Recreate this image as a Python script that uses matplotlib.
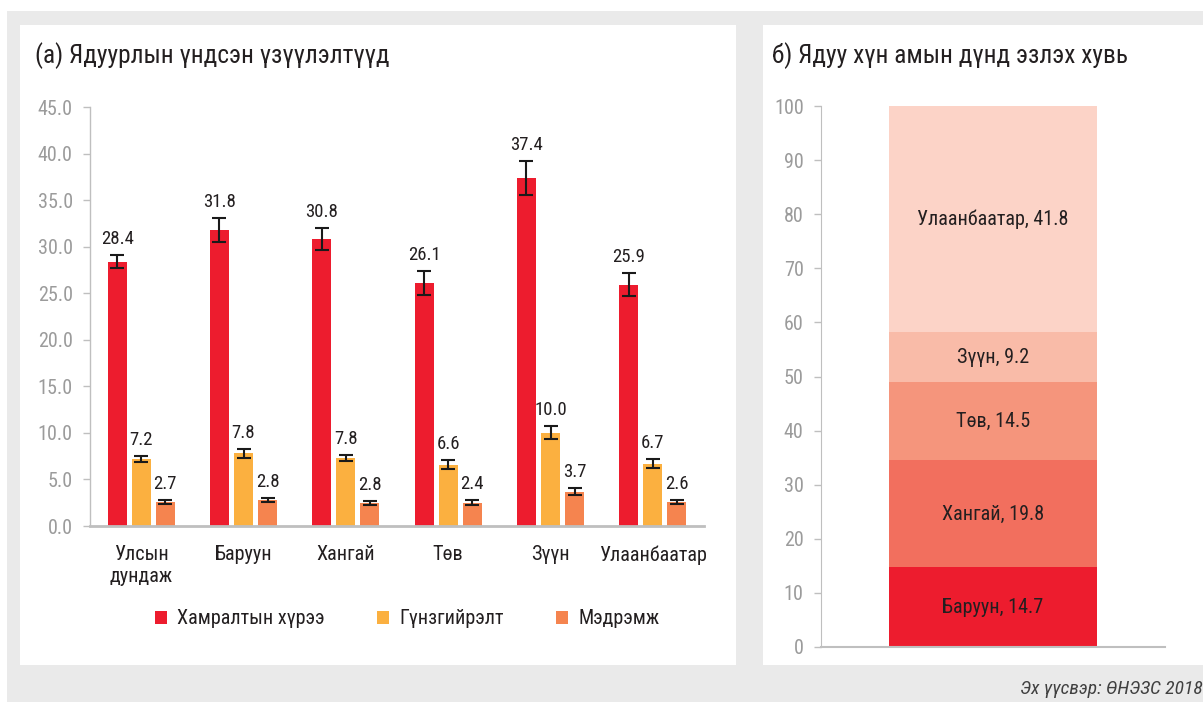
import matplotlib
matplotlib.use("Agg")
import matplotlib.pyplot as plt
from matplotlib.patches import Rectangle, Patch
import numpy as np

plt.rcParams['font.family'] = ['Roboto Condensed', 'Roboto', 'DejaVu Sans']

# ---------------- data ----------------
categories = ["Улсын\nдундаж", "Баруун", "Хангай", "Төв", "Зүүн", "Улаанбаатар"]
series_names = ["Хамралтын хүрээ", "Гүнзгийрэлт", "Мэдрэмж"]
coverage = [28.4, 31.8, 30.8, 26.1, 37.4, 25.9]
coverage_err = [0.7, 1.3, 1.2, 1.25, 1.8, 1.25]
depth = [7.2, 7.8, 7.3, 6.6, 10.0, 6.7]
depth_err = [0.3, 0.5, 0.35, 0.5, 0.7, 0.45]
depth_labels = ["7.2", "7.8", "7.8", "6.6", "10.0", "6.7"]
severity = [2.6, 2.8, 2.5, 2.5, 3.7, 2.6]
severity_err = [0.2, 0.25, 0.2, 0.27, 0.35, 0.23]
severity_labels = ["2.7", "2.8", "2.8", "2.4", "3.7", "2.6"]
coverage_labels = ["28.4", "31.8", "30.8", "26.1", "37.4", "25.9"]
yticks_left = [0, 5, 10, 15, 20, 25, 30, 35, 40, 45]

share_regions = ["Баруун", "Хангай", "Төв", "Зүүн", "Улаанбаатар"]
share_values = [14.7, 19.8, 14.5, 9.2, 41.8]
yticks_right = [0, 10, 20, 30, 40, 50, 60, 70, 80, 90, 100]

title_left = "(а) Ядуурлын үндсэн үзүүлэлтүүд"
title_right = "б) Ядуу хүн амын дүнд эзлэх хувь"
source_text = "Эх үүсвэр: ӨНЭЗС 2018"

# ---------------- style ----------------
series_colors = ["#ED1C2E", "#FBB040", "#F5844F"]
share_colors = ["#ED1C2E", "#F26F5E", "#F5957C", "#F9BBA8", "#FCD3C7"]
bg_gray = "#EAEAEA"
axis_gray = "#BFBFBF"
tick_gray = "#9B9B9B"
text_dark = "#231F20"

W, H = 1203, 702
fig = plt.figure(figsize=(W / 100, H / 100), dpi=100, facecolor="white")


def px_rect(x0, y0, x1, y1, color, z=0):
    fig.patches.append(Rectangle((x0 / W, 1 - y1 / H), (x1 - x0) / W, (y1 - y0) / H,
                                 transform=fig.transFigure, facecolor=color,
                                 edgecolor="none", zorder=z))


def px_axes(x0, y0, x1, y1):
    return fig.add_axes([x0 / W, 1 - y1 / H, (x1 - x0) / W, (y1 - y0) / H])


px_rect(7, 11, 1203, 702, bg_gray, z=-3)
px_rect(20, 25, 736, 665, "white", z=-2)
px_rect(763, 25, 1203, 665, "white", z=-2)

# ---------------- left panel ----------------
ax = px_axes(90, 107, 704, 526)
ax.set_facecolor("none")
x = np.arange(len(categories))
bw = 0.186
offs = [-0.235, 0.0, 0.235]
vals = [coverage, depth, severity]
errs = [coverage_err, depth_err, severity_err]
labs = [coverage_labels, depth_labels, severity_labels]
for i in range(3):
    xs = x + offs[i]
    ax.bar(xs, vals[i], width=bw, color=series_colors[i], label=series_names[i], zorder=2)
    ax.errorbar(xs, vals[i], yerr=errs[i], fmt="none", ecolor="#1A1A1A",
                elinewidth=1.5, capsize=5, capthick=1.5, zorder=3)
    for xi, v, e, t in zip(xs, vals[i], errs[i], labs[i]):
        ax.annotate(t, (xi, v + e), xytext=(0, 5), textcoords="offset points",
                    ha="center", va="bottom", fontsize=13.5, color=text_dark)

ax.set_xlim(-0.5, 5.5)
ax.set_ylim(0, 45)
ax.set_yticks(yticks_left)
ax.set_yticklabels([f"{v:.1f}" for v in yticks_left])
ax.set_xticks(x)
ax.set_xticklabels(categories, fontsize=14.5, color=text_dark, linespacing=1.2)
ax.tick_params(axis="x", length=0, pad=14)
ax.tick_params(axis="y", length=5, width=1, color=axis_gray, labelcolor=tick_gray,
               labelsize=14.5, pad=7.5)
for s in ["top", "right"]:
    ax.spines[s].set_visible(False)
ax.spines["left"].set_color(axis_gray)
ax.spines["left"].set_linewidth(1)
ax.spines["bottom"].set_color(axis_gray)
ax.spines["bottom"].set_linewidth(2)

handles = [Patch(facecolor=c, edgecolor="none") for c in series_colors]
fig.legend(handles, series_names, loc="center left",
           bbox_to_anchor=(137 / W, 1 - 619 / H), ncol=3, frameon=False,
           fontsize=14.5, handlelength=0.6, handleheight=0.6, handletextpad=0.5,
           columnspacing=2.6, labelcolor=text_dark)

fig.text(35 / W, 1 - 56 / H, title_left, fontsize=18.3, color=text_dark,
         ha="left", va="center")

# ---------------- right panel ----------------
ax2 = px_axes(821, 106, 1165, 647)
ax2.set_facecolor("none")
bottom = 0
for name, v, c in zip(share_regions, share_values, share_colors):
    ax2.bar(0, v, bottom=bottom, width=0.603, color=c, zorder=2)
    ax2.text(0, bottom + v / 2, f"{name}, {v}", ha="center", va="center",
             fontsize=14.5, color=text_dark, zorder=3)
    bottom += v
ax2.set_xlim(-0.5, 0.5)
ax2.set_ylim(0, 100)
ax2.set_yticks(yticks_right)
ax2.set_xticks([])
ax2.tick_params(axis="y", length=5, width=1, color=axis_gray, labelcolor=tick_gray,
                labelsize=14.5, pad=7.5)
for s in ["top", "right"]:
    ax2.spines[s].set_visible(False)
ax2.spines["left"].set_color(axis_gray)
ax2.spines["bottom"].set_color(axis_gray)
ax2.spines["bottom"].set_linewidth(1.5)

fig.text(772 / W, 1 - 56 / H, title_right, fontsize=18.3, color=text_dark,
         ha="left", va="center")

fig.text(1203 / W, 1 - 689 / H, source_text, fontsize=14, color="#404040",
         style="italic", ha="right", va="center")

fig.savefig("out.png", dpi=100, facecolor="white")
